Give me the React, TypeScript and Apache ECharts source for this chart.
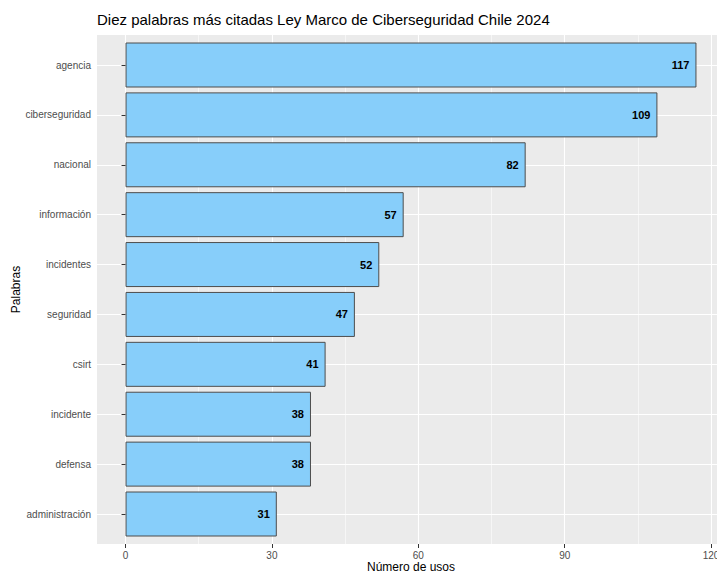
import React, { useEffect, useRef } from "react";
import * as echarts from "echarts";

const categories = [
  "agencia",
  "ciberseguridad",
  "nacional",
  "información",
  "incidentes",
  "seguridad",
  "csirt",
  "incidente",
  "defensa",
  "administración",
];
const counts = [117, 109, 82, 57, 52, 47, 41, 38, 38, 31];
const xTicks = [0, 30, 60, 90, 120];

const TITLE = "Diez palabras más citadas Ley Marco de Ciberseguridad Chile 2024";
const X_TITLE = "Número de usos";
const Y_TITLE = "Palabras";

const FONT = "Liberation Sans, Arial, sans-serif";

export default function App() {
  const ref = useRef<HTMLDivElement>(null);

  useEffect(() => {
    if (!ref.current) return;
    const chart = echarts.init(ref.current, null, { renderer: "svg" });

    const panelLeft = 97;
    const panelRight = 725; // panel extends past the picture edge
    const panelTop = 35;
    const panelBottom = 544;
    const maxVal = Math.max(...counts);
    const pad = maxVal * 0.05;
    const xMin = -pad;
    const xMax = maxVal + pad;
    const pxPerUnit = (panelRight - panelLeft) / (xMax - xMin);
    const zeroPx = panelLeft + (0 - xMin) * pxPerUnit;
    const catTop = 65;
    const catBottom = 514;

    chart.setOption({
      animation: false,
      title: {
        text: TITLE,
        left: panelLeft,
        top: 12,
        padding: 0,
        textStyle: { fontSize: 15, fontWeight: "normal", color: "#000", fontFamily: FONT },
      },
      graphic: [
        {
          type: "rect",
          z: -10,
          shape: { x: panelLeft, y: panelTop, width: panelRight - panelLeft, height: panelBottom - panelTop },
          style: { fill: "#EBEBEB" },
        },
        {
          type: "text",
          style: {
            x: (panelLeft + panelRight) / 2,
            y: 567,
            text: X_TITLE,
            textAlign: "center",
            textVerticalAlign: "middle",
            fontSize: 12,
            fill: "#000",
            fontFamily: FONT,
          },
        },
        {
          type: "text",
          x: 16,
          y: (panelTop + panelBottom) / 2,
          rotation: Math.PI / 2,
          style: {
            x: 0,
            y: 0,
            text: Y_TITLE,
            textAlign: "center",
            textVerticalAlign: "middle",
            fontSize: 12,
            fill: "#000",
            fontFamily: FONT,
          },
        },
      ],
      grid: [
        {
          left: panelLeft,
          width: panelRight - panelLeft,
          top: catTop,
          height: catBottom - catTop,
          containLabel: false,
        },
        {
          left: zeroPx,
          width: panelRight - zeroPx,
          top: panelTop,
          height: panelBottom - panelTop,
          containLabel: false,
        },
      ],
      xAxis: [
        {
          type: "value",
          gridIndex: 0,
          min: xMin,
          max: xMax,
          show: false,
        },
        {
          type: "value",
          gridIndex: 1,
          min: 0,
          max: xMax,
          interval: xTicks[1] - xTicks[0],
          axisLine: { show: false },
          axisTick: { show: true, length: 4, lineStyle: { color: "#333333", width: 1 } },
          axisLabel: {
            color: "#4D4D4D",
            fontSize: 10,
            margin: 6,
            fontFamily: FONT,
            formatter: (v: number) => (xTicks.includes(v) ? String(v) : ""),
          },
          splitLine: { show: true, lineStyle: { color: "#FFFFFF", width: 1.1 } },
          minorTick: { show: false, splitNumber: 2 },
          minorSplitLine: { show: true, lineStyle: { color: "#FFFFFF", width: 0.55 } },
        },
      ],
      yAxis: [
        {
          type: "category",
          gridIndex: 0,
          data: categories,
          inverse: true,
          boundaryGap: false,
          axisLine: { show: false },
          axisTick: { show: true, length: 4, lineStyle: { color: "#333333", width: 1 } },
          axisLabel: { color: "#4D4D4D", fontSize: 10, margin: 6, interval: 0, fontFamily: FONT },
          splitLine: { show: true, interval: 0, lineStyle: { color: "#FFFFFF", width: 1.1 } },
        },
        {
          type: "value",
          gridIndex: 1,
          min: 0,
          max: 1,
          show: false,
        },
      ],
      series: [
        {
          type: "bar",
          xAxisIndex: 0,
          yAxisIndex: 0,
          data: counts,
          barWidth: 45,
          clip: false,
          itemStyle: { color: "#87CEFA", borderColor: "#4D4D4D", borderWidth: 1 },
          label: {
            show: true,
            position: "insideRight",
            distance: 7,
            color: "#000",
            fontSize: 11,
            fontWeight: "bold",
            fontFamily: FONT,
          },
        },
      ],
    });

    return () => chart.dispose();
  }, []);

  return (
    <div
      style={{
        position: "absolute",
        left: 0,
        top: 0,
        width: 717,
        height: 573,
        overflow: "hidden",
      }}
    >
      <div ref={ref} style={{ width: 740, height: 573 }} />
    </div>
  );
}
